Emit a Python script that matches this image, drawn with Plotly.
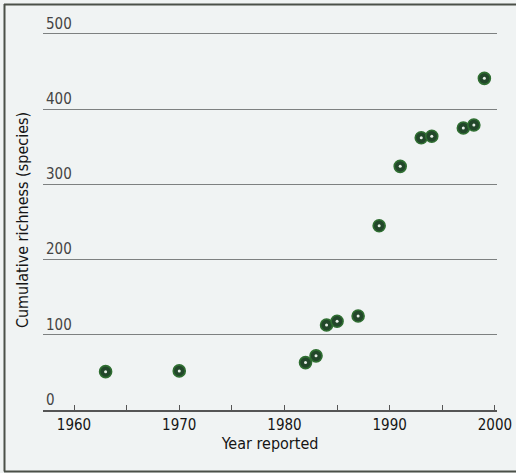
import plotly.graph_objects as go

years = [1963, 1970, 1982, 1983, 1984, 1985, 1987, 1989, 1991, 1993, 1994, 1997, 1998, 1999]
richness = [51, 52, 63, 72, 113, 118, 125, 245, 324, 362, 364, 375, 379, 441]
y_ticks = [0, 100, 200, 300, 400, 500]
x_ticks = [1960, 1970, 1980, 1990, 2000]

W, H = 516, 473
ML, MR, MT, MB = 43, 19, 30, 63
pw, ph = W - ML - MR, H - MT - MB

def px(x):
    return (x - ML) / pw

def py(y):
    return (H - MB - y) / ph

FONT = "DejaVu Sans Condensed, DejaVu Sans, sans-serif"
BG = "#f0f3f3"

fig = go.Figure()
fig.add_trace(go.Scatter(
    x=years, y=richness, mode="markers",
    marker=dict(size=12, color="#22472a", line=dict(color="#2f6e31", width=1.6)),
    hoverinfo="skip", showlegend=False))
fig.add_trace(go.Scatter(
    x=years, y=richness, mode="markers",
    marker=dict(size=3, color="#e8efe8", line=dict(width=0)),
    hoverinfo="skip", showlegend=False))

fig.update_layout(
    width=W, height=H,
    margin=dict(l=ML, r=MR, t=MT, b=MB, pad=0),
    paper_bgcolor=BG, plot_bgcolor=BG,
    font=dict(family=FONT, size=15, color="#151515"),
    xaxis=dict(
        range=[1957.05, 2000.2], tickvals=x_ticks, ticks="inside", ticklen=5,
        tickcolor="#555", tickwidth=1, showgrid=False, zeroline=False,
        showline=True, linecolor="#555", linewidth=1.5, automargin=False,
        minor=dict(dtick=5, tick0=1960, ticks="inside", ticklen=5, tickcolor="#555", tickwidth=1, showgrid=False),
        tickfont=dict(size=15), ticklabelstandoff=0, ticklabeloverflow="allow",
        title=dict(text="Year reported", font=dict(size=16), standoff=4),
    ),
    yaxis=dict(
        range=[0, 505.3], tickvals=y_ticks, ticks="", showgrid=True,
        gridcolor="#7d8080", gridwidth=1, zeroline=False, showline=False,
        automargin=False,
        ticklabelposition="inside top", tickfont=dict(size=15), ticklabeloverflow="allow",
        title=dict(text="Cumulative richness (species)", font=dict(size=16), standoff=13),
    ),
    shapes=[
        dict(type="line", xref="paper", yref="paper", x0=px(4.5), x1=px(4.5), y0=py(4), y1=py(471.5),
             line=dict(color="#4b5048", width=2)),
        dict(type="line", xref="paper", yref="paper", x0=px(4), x1=px(516), y0=py(4.5), y1=py(4.5),
             line=dict(color="#4b5048", width=2)),
        dict(type="line", xref="paper", yref="paper", x0=px(4), x1=px(516), y0=py(471.5), y1=py(471.5),
             line=dict(color="#4b5048", width=2)),
    ],
)

fig.write_html("out.html", config={"displayModeBar": False},
               post_script="document.body.style.margin='0';document.body.style.overflow='hidden';")
